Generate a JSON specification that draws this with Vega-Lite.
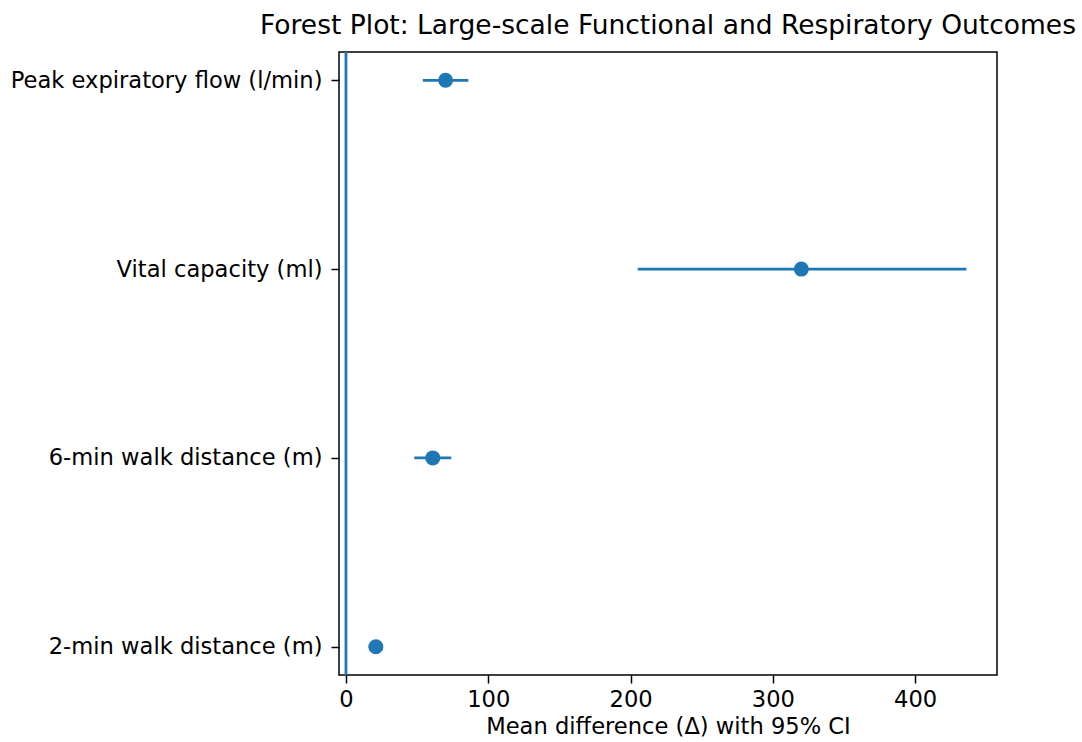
{
  "$schema": "https://vega.github.io/schema/vega-lite/v6.json",
  "autosize": {"type": "none"},
  "width": 658,
  "height": 623,
  "padding": {"left": 339, "top": 52, "right": 85, "bottom": 67},
  "background": "white",
  "title": {"text": "Forest Plot: Large-scale Functional and Respiratory Outcomes", "font": "DejaVu Sans", "fontSize": 26.5, "fontWeight": "normal", "color": "#000000", "offset": 11, "anchor": "middle"},
  "config": {
    "view": {"stroke": "#000000", "strokeWidth": 1.5},
    "axis": {"grid": false, "domain": false, "labelFont": "DejaVu Sans", "titleFont": "DejaVu Sans", "labelFontSize": 22.6, "titleFontSize": 22.6, "titleFontWeight": "normal", "labelColor": "#000000", "titleColor": "#000000", "tickColor": "#000000", "tickSize": 8, "tickWidth": 1.5, "labelPadding": 5, "labelLimit": 0}
  },
  "data": {"values": [
    {"outcome": "Peak expiratory flow (l/min)", "mean": 70, "lo": 54, "hi": 86},
    {"outcome": "Vital capacity (ml)", "mean": 320, "lo": 205, "hi": 436},
    {"outcome": "6-min walk distance (m)", "mean": 61, "lo": 48, "hi": 74},
    {"outcome": "2-min walk distance (m)", "mean": 21, "lo": 16, "hi": 26}
  ]},
  "layer": [
    {
      "mark": {"type": "rule", "color": "#1f77b4", "strokeWidth": 2.8},
      "data": {"values": [{"zero": 0}]},
      "encoding": {"x": {"field": "zero", "type": "quantitative"}}
    },
    {
      "mark": {"type": "rule", "color": "#1f77b4", "strokeWidth": 2.8},
      "encoding": {
        "y": {"field": "outcome", "type": "nominal", "sort": ["Peak expiratory flow (l/min)", "Vital capacity (ml)", "6-min walk distance (m)", "2-min walk distance (m)"]},
        "x": {"field": "lo", "type": "quantitative"},
        "x2": {"field": "hi"}
      }
    },
    {
      "mark": {"type": "point", "filled": true, "shape": "circle", "color": "#1f77b4", "size": 225, "opacity": 1},
      "encoding": {
        "y": {"field": "outcome", "type": "nominal", "sort": ["Peak expiratory flow (l/min)", "Vital capacity (ml)", "6-min walk distance (m)", "2-min walk distance (m)"], "scale": {"type": "point", "padding": 0.15}, "axis": {"title": null, "labelPadding": 9}},
        "x": {"field": "mean", "type": "quantitative", "scale": {"domain": [-4.9, 457.5], "nice": false, "zero": false}, "axis": {"values": [0, 100, 200, 300, 400], "title": "Mean difference (Δ) with 95% CI", "titlePadding": 5}}
      }
    }
  ]
}
